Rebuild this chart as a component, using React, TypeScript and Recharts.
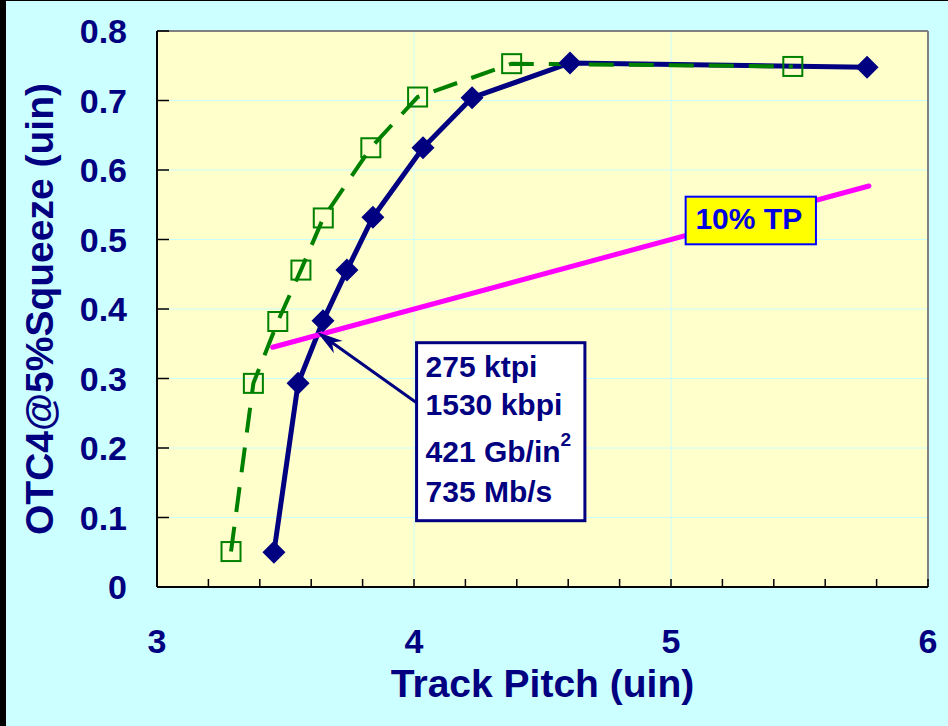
import {
  ComposedChart,
  Line,
  XAxis,
  YAxis,
  CartesianGrid,
  ReferenceLine,
  ReferenceArea,
} from "recharts";

const NAVY = "#000080";
const GREEN = "#008000";
const FONT = '"Liberation Sans", Arial, sans-serif';

// OTC4 at 5% squeeze vs track pitch, both in uin
const solidPitch = [3.455, 3.549, 3.646, 3.739, 3.84, 4.035, 4.226, 4.607, 5.763];
const solidOtc = [0.05, 0.293, 0.383, 0.456, 0.532, 0.632, 0.704, 0.754, 0.748];
const dashedPitch = [3.288, 3.375, 3.47, 3.56, 3.647, 3.832, 4.014, 4.38, 5.474];
const dashedOtc = [0.051, 0.293, 0.382, 0.456, 0.531, 0.632, 0.705, 0.753, 0.749];
// 10% of track pitch
const tpPitch = [3.45, 5.77];
const tpOtc = [0.345, 0.577];

const xTicks = [3, 3.2, 3.4, 3.6, 3.8, 4, 4.2, 4.4, 4.6, 4.8, 5, 5.2, 5.4, 5.6, 5.8, 6];
const yTicks = [0, 0.1, 0.2, 0.3, 0.4, 0.5, 0.6, 0.7, 0.8];

const noteLines = ["275 ktpi", "1530 kbpi", "421 Gb/in", "735 Mb/s"];
const noteBaselines = [34, 72, 119, 159];

const rows = (xs: number[], ys: number[]) => xs.map((x, i) => ({ x, y: ys[i] }));
const solid = rows(solidPitch, solidOtc);
const dashed = rows(dashedPitch, dashedOtc);
const tpLine = rows(tpPitch, tpOtc);

const XTick = ({ x, y, payload }: any) => {
  const v = payload.value as number;
  const major = Math.abs(v - Math.round(v)) < 1e-6;
  return (
    <g>
      <line x1={x} y1={y} x2={x} y2={y - 8} stroke="#000" strokeWidth={1.5} />
      {major && (
        <text x={x} y={y + 66} textAnchor="middle" fill={NAVY} fontFamily={FONT} fontWeight="bold" fontSize={34}>
          {v}
        </text>
      )}
    </g>
  );
};

const YTick = ({ x, y, payload }: any) => {
  const v = payload.value as number;
  return (
    <g>
      <line x1={x} y1={y} x2={x + 12} y2={y} stroke="#000" strokeWidth={1.5} />
      <text x={x - 30} y={y + 12} textAnchor="end" fill={NAVY} fontFamily={FONT} fontWeight="bold" fontSize={34}>
        {v === 0 ? "0" : v.toFixed(1)}
      </text>
    </g>
  );
};

const diamond = (p: any) => {
  const { cx, cy, index } = p;
  const r = 11.5;
  return (
    <path
      key={`d${index}`}
      d={`M${cx},${cy - r}L${cx + r},${cy}L${cx},${cy + r}L${cx - r},${cy}Z`}
      fill={NAVY}
    />
  );
};

const square = (p: any) => {
  const { cx, cy, index } = p;
  return (
    <rect key={`s${index}`} x={cx - 9.5} y={cy - 9.5} width={19} height={19} fill="none" stroke={GREEN} strokeWidth={2} />
  );
};

const TpBox = ({ x, y, width, height }: any) => (
  <g>
    <rect x={x} y={y} width={width} height={height} fill="#FFFF00" stroke="#0000FF" strokeWidth={2} />
    <text x={x + width / 2 - 2} y={y + 32.6} textAnchor="middle" fill="#0000E0" fontFamily={FONT} fontWeight="bold" fontSize={30}>
      10% TP
    </text>
  </g>
);

const NoteBox = ({ x, y, width, height }: any) => (
  <g>
    <rect x={x} y={y} width={width} height={height} fill="#FFFFFF" stroke={NAVY} strokeWidth={3} />
    {noteLines.map((t, i) => (
      <text key={t} x={x + 9} y={y + noteBaselines[i]} fill={NAVY} fontFamily={FONT} fontWeight="bold" fontSize={30}>
        {t}
        {i === 2 && (
          <tspan fontSize={19} dy={-16}>
            2
          </tspan>
        )}
      </text>
    ))}
  </g>
);

const Arrow = (p: any) => {
  const { x1, y1, x2, y2 } = p;
  const a = Math.atan2(y2 - y1, x2 - x1);
  const c = Math.cos(a);
  const s = Math.sin(a);
  const len = 26;
  const half = 7.5;
  const bx = x2 - len * c;
  const by = y2 - len * s;
  const nx = x2 - len * 0.7 * c;
  const ny = y2 - len * 0.7 * s;
  return (
    <g>
      <line x1={x1} y1={y1} x2={nx} y2={ny} stroke={NAVY} strokeWidth={3} />
      <polygon
        points={`${x2},${y2} ${bx - half * s},${by + half * c} ${nx},${ny} ${bx + half * s},${by - half * c}`}
        fill={NAVY}
      />
    </g>
  );
};

const XTitle = ({ viewBox }: any) => (
  <text
    x={viewBox.x + viewBox.width / 2}
    y={viewBox.y + 110}
    textAnchor="middle"
    fill={NAVY}
    fontFamily={FONT}
    fontWeight="bold"
    fontSize={39}
  >
    Track Pitch (uin)
  </text>
);

const YTitle = ({ viewBox }: any) => {
  const cx = 53;
  const cy = viewBox.y + viewBox.height / 2;
  return (
    <text
      x={cx}
      y={cy}
      transform={`rotate(-90, ${cx}, ${cy})`}
      textAnchor="middle"
      fill={NAVY}
      fontFamily={FONT}
      fontWeight="bold"
      fontSize={39}
    >
      OTC4@5%Squeeze (uin)
    </text>
  );
};

export default function App() {
  return (
    <div style={{ position: "absolute", left: 0, top: 0, width: 948, height: 726, background: "#000" }}>
      <div style={{ position: "absolute", left: 6, top: 1, width: 942, height: 725, background: "#CCFFFF" }} />
      <div style={{ position: "absolute", left: 0, top: 0 }}>
        <ComposedChart width={948} height={726} margin={{ top: 31, right: 20, bottom: 79, left: 57 }}>
          <CartesianGrid fill="#FFFFCC" fillOpacity={1} stroke="#CCFFFF" strokeWidth={1} verticalValues={[4, 5]} />
          <XAxis
            type="number"
            dataKey="x"
            domain={[3, 6]}
            ticks={xTicks}
            interval={0}
            tick={XTick}
            tickLine={false}
            tickSize={0}
            tickMargin={0}
            height={60}
            allowDataOverflow
            axisLine={{ stroke: "#000", strokeWidth: 2 }}
            label={{ content: XTitle }}
          />
          <YAxis
            type="number"
            dataKey="y"
            domain={[0, 0.8]}
            ticks={yTicks}
            interval={0}
            tick={YTick}
            tickLine={false}
            tickSize={0}
            tickMargin={0}
            width={100}
            allowDataOverflow
            axisLine={{ stroke: "#000", strokeWidth: 2 }}
            label={{ content: YTitle }}
          />
          <ReferenceLine y={0.8} stroke="#808080" strokeWidth={2} />
          <ReferenceLine x={6} stroke="#808080" strokeWidth={2} />
          <Line
            data={solid}
            dataKey="y"
            type="linear"
            stroke={NAVY}
            strokeWidth={5}
            dot={diamond}
            activeDot={false}
            isAnimationActive={false}
          />
          <Line
            data={dashed}
            dataKey="y"
            type="linear"
            stroke={GREEN}
            strokeWidth={4}
            strokeDasharray="25 15"
            dot={square}
            activeDot={false}
            isAnimationActive={false}
          />
          <Line
            data={tpLine}
            dataKey="y"
            type="linear"
            stroke="#FF00FF"
            strokeWidth={5}
            strokeLinecap="round"
            dot={false}
            activeDot={false}
            isAnimationActive={false}
          />
          <ReferenceArea x1={5.057} x2={5.564} y1={0.4931} y2={0.5616} shape={TpBox} zIndex={1000} />
          <ReferenceArea x1={4.01} x2={4.665} y1={0.0954} y2={0.3515} shape={NoteBox} zIndex={1000} />
          <ReferenceLine
            segment={[
              { x: 4.01, y: 0.265 },
              { x: 3.623, y: 0.367 },
            ]}
            shape={Arrow}
            zIndex={1000}
          />
        </ComposedChart>
      </div>
    </div>
  );
}
